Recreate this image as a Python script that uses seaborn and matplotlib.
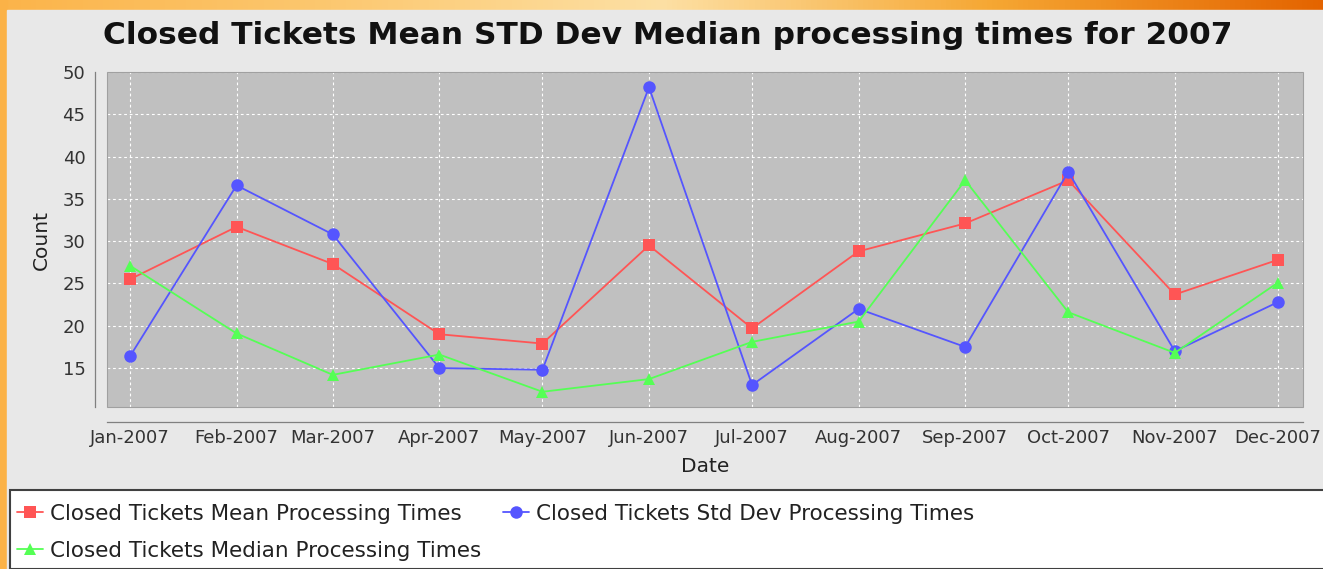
import numpy as np
import pandas as pd
import seaborn as sns
import matplotlib.pyplot as plt
import matplotlib.dates as mdates
from matplotlib.patches import Rectangle
from matplotlib.colors import LinearSegmentedColormap

# monthly values
months = pd.date_range('2007-01-01', periods=12, freq='MS')
mean_times = [25.5, 31.7, 27.3, 19.0, 17.9, 29.5, 19.7, 28.8, 32.1, 37.2, 23.7, 27.8]
std_times = [16.4, 36.6, 30.8, 15.0, 14.8, 48.2, 13.0, 22.0, 17.5, 38.2, 17.0, 22.8]
median_times = [27.1, 19.1, 14.2, 16.6, 12.2, 13.7, 18.1, 20.5, 37.2, 21.6, 16.8, 25.1]

series_names = ['Closed Tickets Mean Processing Times',
                'Closed Tickets Std Dev Processing Times',
                'Closed Tickets Median Processing Times']
colors = ['#ff5555', '#5555ff', '#55ff55']
markers = ['s', 'o', '^']

sns.set_style('white')
plt.rcParams['font.family'] = ['DejaVu Sans']

W, H = 1323, 569
fig = plt.figure(figsize=(W / 100, H / 100), dpi=100)

# orange frame behind the chart panel
bg = fig.add_axes([0, 0, 1, 1], zorder=-10)
bg.axis('off')
orange = LinearSegmentedColormap.from_list('o', ['#fbb44a', '#fcc870', '#fde0a4', '#f6a733', '#e46400'])
bg.imshow(np.linspace(0, 1, 256)[None, :], aspect='auto', cmap=orange, extent=[0, 1, 0, 1])
bg.add_patch(Rectangle((0, 0), 7 / W, 1, color='#fbb247', zorder=2))
bg.add_patch(Rectangle((7 / W, 0), 1, 1 - 10 / H, color='#e8e8e8', zorder=3))
bg.set_xlim(0, 1)
bg.set_ylim(0, 1)

ax = fig.add_axes([107 / W, 1 - 407 / H, (1303 - 107) / W, (407 - 72) / H])
ax.set_facecolor('#c0c0c0')

data = {series_names[0]: mean_times, series_names[1]: std_times, series_names[2]: median_times}
for name, c, m in zip(series_names, colors, markers):
    df = pd.DataFrame({'Date': months, 'Count': data[name]})
    sns.lineplot(data=df, x='Date', y='Count', ax=ax, color=c, marker=m, markersize=9,
                 markeredgewidth=0, linewidth=1.3, label=name, zorder=3)

handles, labels = ax.get_legend_handles_labels()
ax.get_legend().remove()

ax.set_xlim(months[0] - pd.Timedelta(days=6.7), months[-1] + pd.Timedelta(days=7.3))
ax.set_ylim(10.4, 50)
ax.set_yticks(range(15, 51, 5))
ax.set_xticks(months)
ax.xaxis.set_major_formatter(mdates.DateFormatter('%b-%Y'))

ax.grid(True, color='white', linestyle=(0, (2.5, 2.5)), linewidth=0.8)
ax.set_axisbelow(True)

for s in ['top', 'right']:
    ax.spines[s].set_visible(False)
ax.spines['left'].set_position(('outward', 9))
ax.spines['bottom'].set_position(('outward', 11))
for s in ['left', 'bottom']:
    ax.spines[s].set_color('#808080')
    ax.spines[s].set_linewidth(0.9)
ax.add_patch(Rectangle((0, 0), 1, 1, transform=ax.transAxes, fill=False,
                       edgecolor='#a0a0a0', linewidth=0.8, clip_on=False, zorder=5))

ax.tick_params(axis='both', which='major', direction='out', length=3, width=0.8,
               color='#808080', labelsize=13, labelcolor='#333333')
ax.tick_params(axis='y', pad=3.5)
ax.tick_params(axis='x', pad=1.5)

ax.set_xlabel('Date', fontsize=14.5, color='#222222')
ax.set_ylabel('Count', fontsize=14.5, color='#222222')
ax.xaxis.set_label_coords(0.5, -0.148)
ax.yaxis.set_label_coords(-0.047, 0.5)

fig.text(0.5045, 1 - 35 / H, 'Closed Tickets Mean STD Dev Median processing times for 2007',
         ha='center', va='center', fontsize=22.5, fontweight='bold', color='#111111')

# legend box at the bottom
fig.patches.append(Rectangle((10 / W, 0), 1, 1 - 490 / H, transform=fig.transFigure,
                             facecolor='white', edgecolor='#404040', linewidth=1.5, zorder=1))
order = [0, 2, 1]
leg = fig.legend([handles[i] for i in order], [labels[i] for i in order],
                 loc='upper left', bbox_to_anchor=(17 / W, 1 - 504 / H), ncol=2,
                 frameon=False, fontsize=15.5, handlelength=1.2, handletextpad=0.33,
                 columnspacing=1.0, labelspacing=0.78, borderaxespad=0, borderpad=0)
for t in leg.get_texts():
    t.set_color('#222222')

fig.savefig('out.png', dpi=100)
